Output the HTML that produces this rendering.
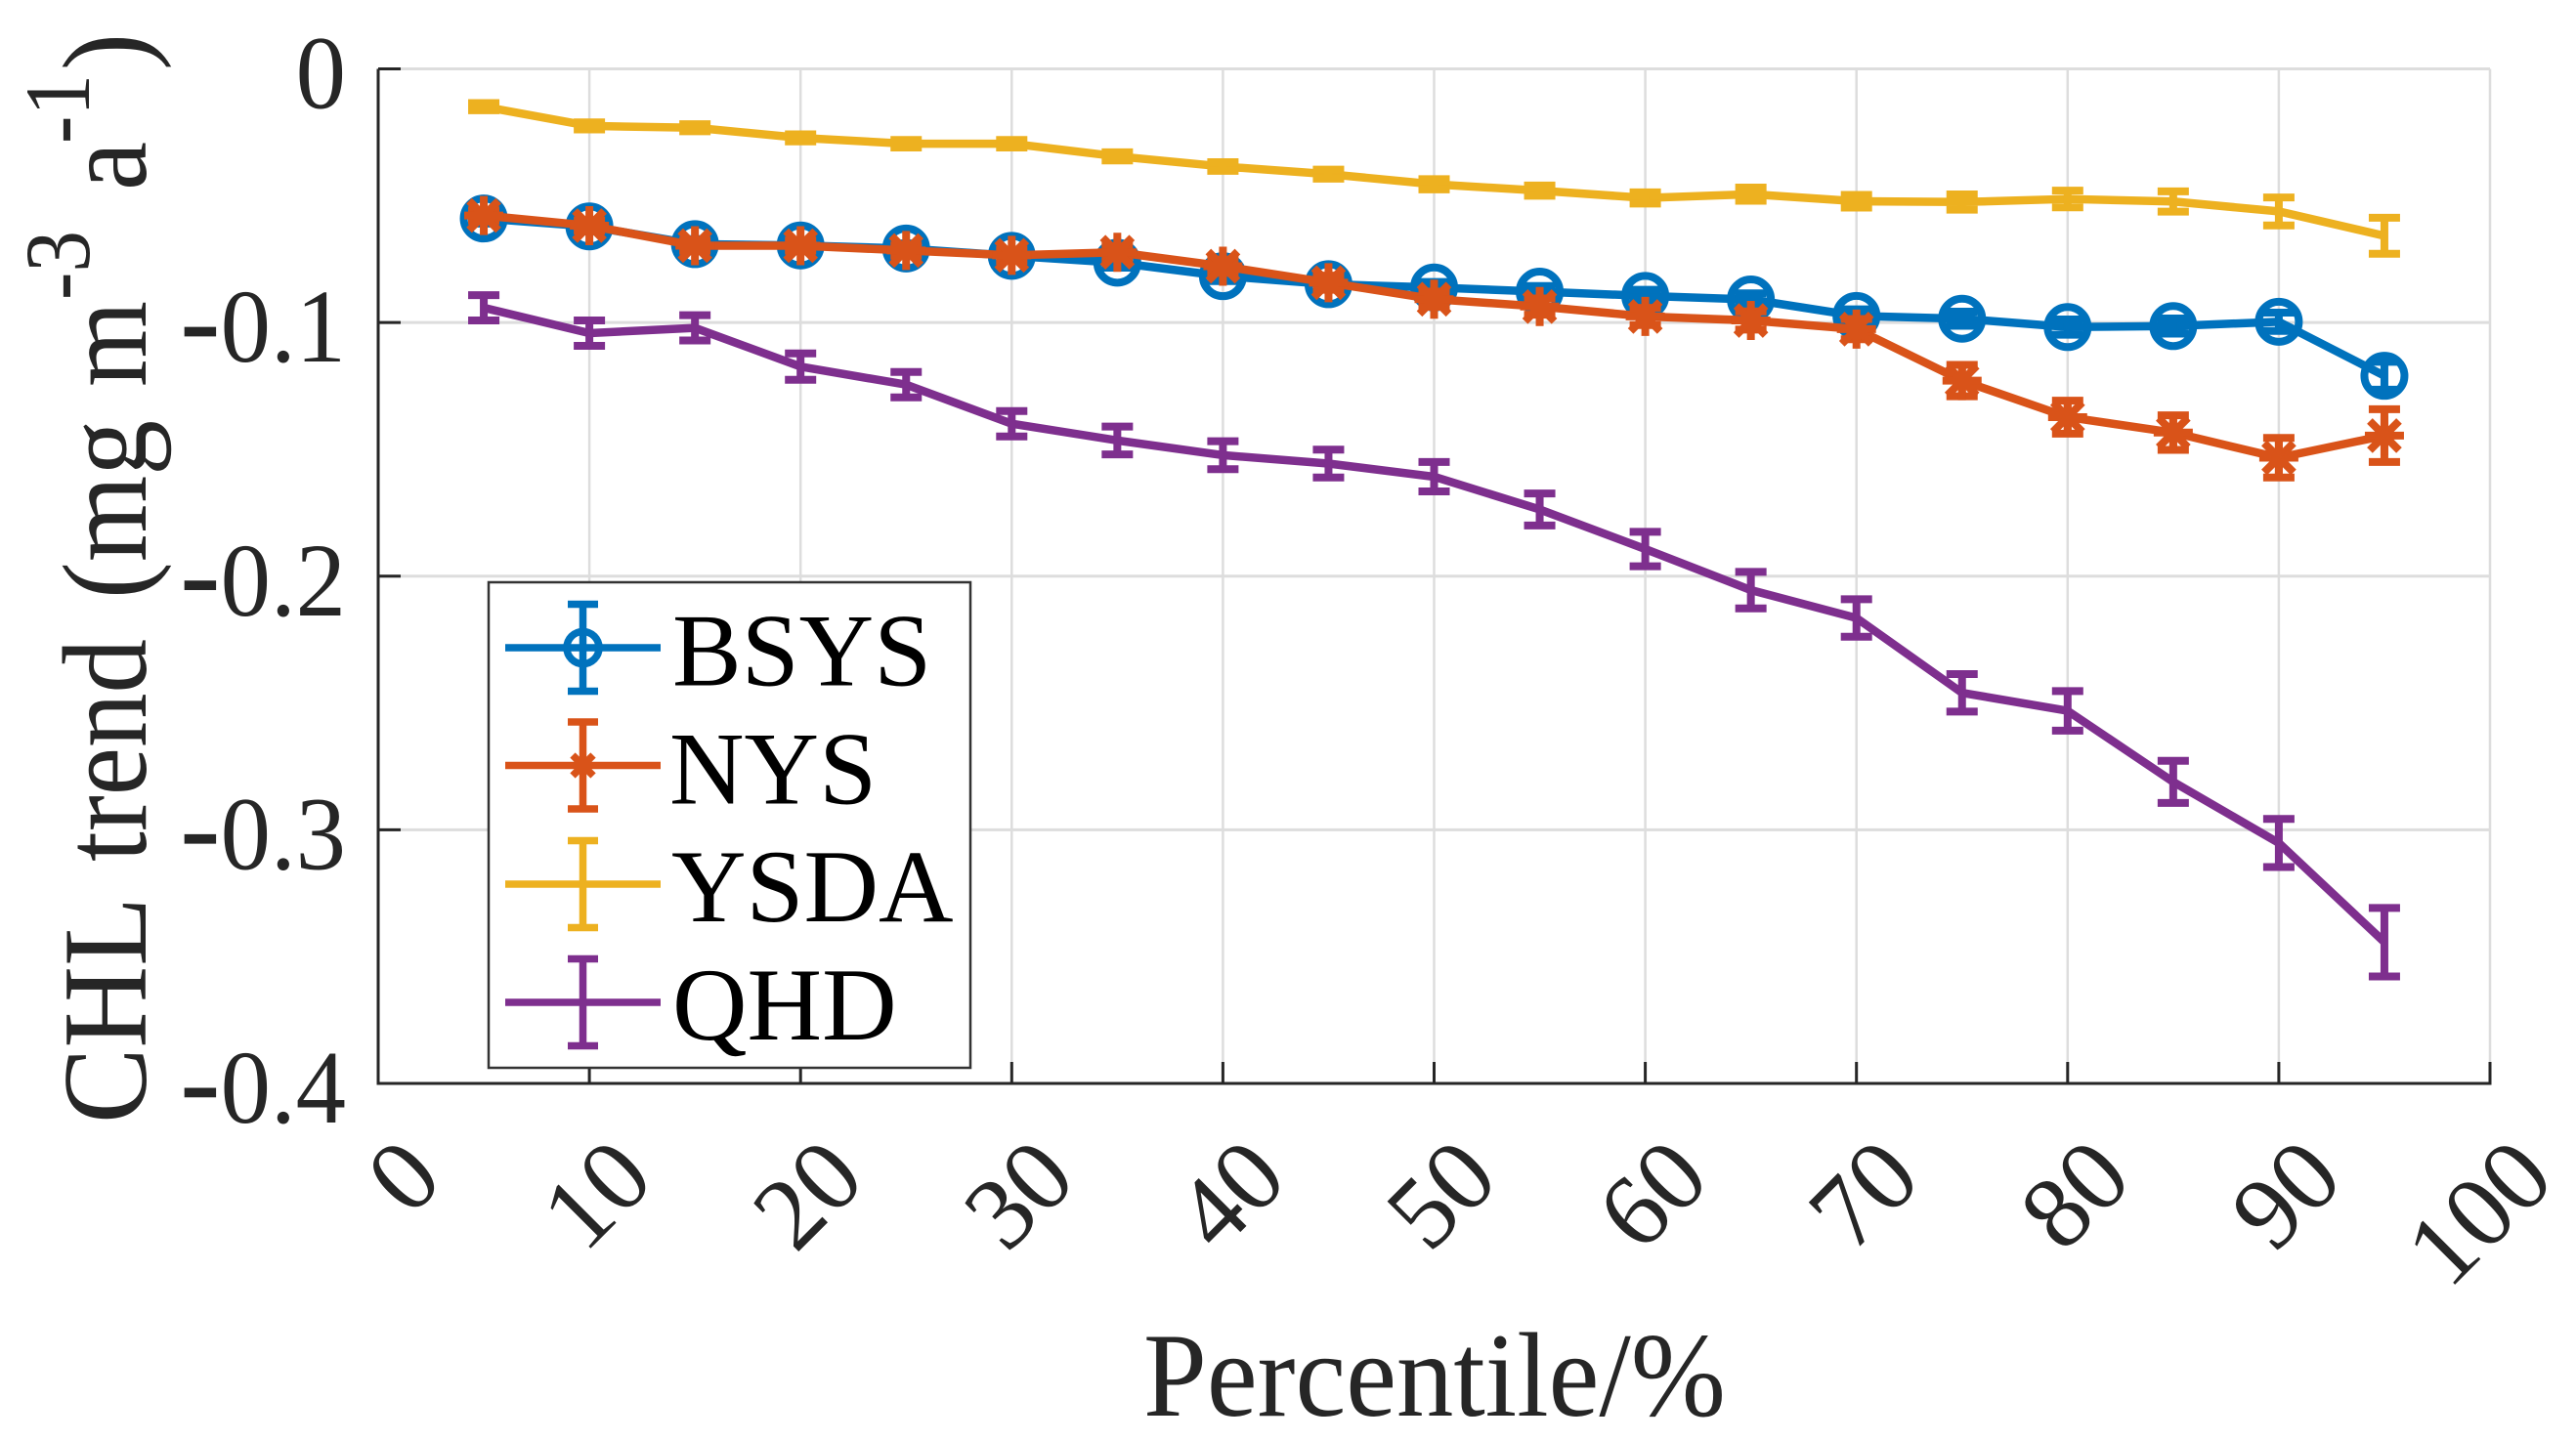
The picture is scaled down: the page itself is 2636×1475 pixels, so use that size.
<!DOCTYPE html>
<html lang="en">
<head>
<meta charset="utf-8">
<title>CHL trend by percentile</title>
<style>
html,body{margin:0;padding:0;background:#fff;}
svg{display:block;font-family:"Liberation Serif",serif;}
</style>
</head>
<body>
<svg xmlns="http://www.w3.org/2000/svg" width="2636" height="1475" viewBox="0 0 2636 1475">
  <rect x="0" y="0" width="2636" height="1475" fill="#ffffff"/>
  <g id="grid"></g>
  <g id="axes"></g>
  <g id="series"></g>

  <g fill="#262626" font-size="123">
    <text transform="translate(149,1150) rotate(-90)" textLength="232" lengthAdjust="spacingAndGlyphs">CHL</text>
    <text transform="translate(149,882) rotate(-90)" textLength="228" lengthAdjust="spacingAndGlyphs">trend</text>
    <text transform="translate(149,613) rotate(-90)" textLength="183" lengthAdjust="spacingAndGlyphs">(mg</text>
    <text transform="translate(149,396) rotate(-90)" textLength="88" lengthAdjust="spacingAndGlyphs">m</text>
    <text transform="translate(91,307) rotate(-90)" font-size="95" textLength="71" lengthAdjust="spacingAndGlyphs">-3</text>
    <text transform="translate(149,195) rotate(-90)" textLength="50" lengthAdjust="spacingAndGlyphs">a</text>
    <text transform="translate(91,147) rotate(-90)" font-size="95" textLength="71" lengthAdjust="spacingAndGlyphs">-1</text>
    <text transform="translate(149,72) rotate(-90)" textLength="38" lengthAdjust="spacingAndGlyphs">)</text>
  </g>

  <text x="1170" y="1449" font-size="123" fill="#262626" textLength="596" lengthAdjust="spacingAndGlyphs">Percentile/%</text>

  <g>
    <rect x="500" y="596" width="493" height="497" fill="#ffffff" stroke="#333333" stroke-width="2.5"/>

    <g stroke="#0072BD" stroke-width="7.5" fill="none">
      <line x1="517" y1="663" x2="676" y2="663"/>
      <line x1="596.5" y1="618.5" x2="596.5" y2="707.5"/>
      <line x1="581" y1="618.5" x2="612" y2="618.5"/>
      <line x1="581" y1="707.5" x2="612" y2="707.5"/>
      <circle cx="596.5" cy="663" r="16.5"/>
      <text x="688" y="701.5" font-size="106" fill="#000000" stroke="none">BSYS</text>
    </g>

    <g stroke="#D95319" stroke-width="7.5" fill="none">
      <line x1="517" y1="783.5" x2="676" y2="783.5"/>
      <line x1="596.5" y1="739" x2="596.5" y2="828"/>
      <line x1="581" y1="739" x2="612" y2="739"/>
      <line x1="581" y1="828" x2="612" y2="828"/>
      <line x1="586" y1="773" x2="607" y2="794"/>
      <line x1="607" y1="773" x2="586" y2="794"/>
      <text x="685" y="822.5" font-size="106" fill="#000000" stroke="none">NYS</text>
    </g>

    <g stroke="#EDB120" stroke-width="7.5" fill="none">
      <line x1="517" y1="905" x2="676" y2="905"/>
      <line x1="596.5" y1="860.5" x2="596.5" y2="949.5"/>
      <line x1="581" y1="860.5" x2="612" y2="860.5"/>
      <line x1="581" y1="949.5" x2="612" y2="949.5"/>
      <text x="687" y="943" font-size="106" fill="#000000" stroke="none">YSDA</text>
    </g>

    <g stroke="#7E2F8E" stroke-width="7.5" fill="none">
      <line x1="517" y1="1026" x2="676" y2="1026"/>
      <line x1="596.5" y1="981.5" x2="596.5" y2="1070.5"/>
      <line x1="581" y1="981.5" x2="612" y2="981.5"/>
      <line x1="581" y1="1070.5" x2="612" y2="1070.5"/>
      <text x="688" y="1064" font-size="106" fill="#000000" stroke="none">QHD</text>
    </g>
  </g>
</svg>

<script>
const percentiles = [5,10,15,20,25,30,35,40,45,50,55,60,65,70,75,80,85,90,95];
const xTickValues = [0,10,20,30,40,50,60,70,80,90,100];
const yTickValues = [0,-0.1,-0.2,-0.3,-0.4];
const yTickLabels = ["0","0.1","0.2","0.3","0.4"];

const bsysValues = [-0.059,-0.0621,-0.0691,-0.0696,-0.0708,-0.0737,-0.0764,-0.0817,-0.0849,-0.0862,-0.0878,-0.0895,-0.0909,-0.0974,-0.0985,-0.1018,-0.1014,-0.0997,-0.121];
const bsysErrors = [0.002,0.002,0.002,0.002,0.002,0.002,0.002,0.002,0.002,0.0022,0.0022,0.0024,0.0024,0.0026,0.0028,0.003,0.003,0.0036,0.0055];

const nysValues = [-0.0578,-0.0618,-0.0697,-0.0697,-0.0716,-0.0735,-0.0723,-0.0778,-0.0843,-0.0908,-0.0937,-0.0976,-0.0992,-0.1026,-0.1229,-0.1373,-0.1434,-0.1533,-0.1446];
const nysErrors = [0.002,0.002,0.002,0.002,0.002,0.0022,0.0024,0.0026,0.0028,0.003,0.0032,0.0034,0.0036,0.004,0.0062,0.0065,0.0068,0.0078,0.0104];

const ysdaValues = [-0.0149,-0.0225,-0.0232,-0.0272,-0.0295,-0.0295,-0.0345,-0.0385,-0.0415,-0.0455,-0.048,-0.0509,-0.0494,-0.0522,-0.0525,-0.0513,-0.0523,-0.0562,-0.0658];
const ysdaErrors = [0.0014,0.0014,0.0014,0.0014,0.0015,0.0015,0.0016,0.0017,0.0018,0.002,0.002,0.0022,0.0026,0.0025,0.003,0.0033,0.004,0.0055,0.0071];

const qhdValues = [-0.0942,-0.1042,-0.1021,-0.1174,-0.1245,-0.1399,-0.1465,-0.1523,-0.1556,-0.1608,-0.1737,-0.1893,-0.2055,-0.2165,-0.246,-0.2531,-0.2811,-0.3052,-0.3443];
const qhdErrors = [0.005,0.005,0.005,0.0052,0.005,0.005,0.0055,0.0055,0.0055,0.0058,0.0063,0.0068,0.0072,0.0074,0.0074,0.0078,0.0083,0.0095,0.0135];

const SVGNS = "http://www.w3.org/2000/svg";
const plotLeft = 387, plotRight = 2548, plotTop = 70.5, plotBottom = 1109;
const xDomain = [0, 100], yDomain = [-0.4, 0];

function xScale(v) {
  return plotLeft + (v - xDomain[0]) / (xDomain[1] - xDomain[0]) * (plotRight - plotLeft);
}
function yScale(v) {
  return plotBottom - (v - yDomain[0]) / (yDomain[1] - yDomain[0]) * (plotBottom - plotTop);
}
function make(tag, attrs, parent) {
  const el = document.createElementNS(SVGNS, tag);
  for (const k in attrs) el.setAttribute(k, attrs[k]);
  parent.appendChild(el);
  return el;
}

const gridGroup = document.getElementById("grid");
const axesGroup = document.getElementById("axes");
const seriesGroup = document.getElementById("series");

xTickValues.forEach(function (t) {
  const x = xScale(t);
  const g = make("line", {x1: x, y1: plotTop, x2: x, y2: plotBottom, stroke: "#dddddd", "stroke-width": 2.5}, gridGroup);
  
  
  const tick = make("line", {x1: x, y1: plotBottom, x2: x, y2: plotBottom - 22, stroke: "#262626", "stroke-width": 3}, axesGroup);
  
  
  const label = make("text", {transform: "translate(" + (x + 69) + ",1210) rotate(-45)", "text-anchor": "end", "font-size": 105, fill: "#262626"}, axesGroup);
  label.textContent = String(t);
  
  
});

yTickValues.forEach(function (t, i) {
  const y = yScale(t);
  const g = make("line", {x1: plotLeft, y1: y, x2: plotRight, y2: y, stroke: "#dddddd", "stroke-width": 3}, gridGroup);
  
  
  const tick = make("line", {x1: plotLeft, y1: y, x2: plotLeft + 23, y2: y, stroke: "#262626", "stroke-width": 3}, axesGroup);
  
  
  const label = make("text", {transform: "translate(354," + (y + 40) + ") scale(0.96,1)", "text-anchor": "end", "font-size": 107, fill: "#262626"}, axesGroup);
  if (t < 0) {
    const dash = make("tspan", {"font-size": 130}, label);
    dash.textContent = "-";
    
    
  }
  const digits = make("tspan", {}, label);
  digits.textContent = yTickLabels[i];
  
  
  
  
});

const xAxisLine = make("line", {x1: plotLeft - 1.5, y1: plotBottom, x2: plotRight + 1.5, y2: plotBottom, stroke: "#262626", "stroke-width": 3}, axesGroup);


const yAxisLine = make("line", {x1: plotLeft, y1: plotTop, x2: plotLeft, y2: plotBottom, stroke: "#262626", "stroke-width": 3}, axesGroup);



function drawSeries(name, values, errors, color, marker) {
  const group = make("g", {stroke: color, fill: "none"}, seriesGroup);
  
  

  const pts = values.map(function (v, i) { return xScale(percentiles[i]) + "," + yScale(v); }).join(" ");
  const line = make("polyline", {points: pts, "stroke-width": 8.5, "stroke-linejoin": "round"}, group);
  
  

  values.forEach(function (v, i) {
    const x = xScale(percentiles[i]);
    const y = yScale(v);
    const yHi = yScale(v + errors[i]);
    const yLo = yScale(v - errors[i]);
    const bar = make("path", {
      d: "M" + x + " " + yHi + "V" + yLo + "M" + (x - 16) + " " + yHi + "H" + (x + 16) + "M" + (x - 16) + " " + yLo + "H" + (x + 16),
      "stroke-width": 8
    }, group);
    
    

    if (marker === "circle") {
      const c = make("circle", {cx: x, cy: y, r: 20.5, "stroke-width": 8}, group);
      
      
    }
    if (marker === "asterisk") {
      const r = 20, d = 15;
      const a = make("path", {
        d: "M" + (x - r) + " " + y + "H" + (x + r) +
           "M" + x + " " + (y - r) + "V" + (y + r) +
           "M" + (x - d) + " " + (y - d) + "L" + (x + d) + " " + (y + d) +
           "M" + (x - d) + " " + (y + d) + "L" + (x + d) + " " + (y - d),
        "stroke-width": 8
      }, group);
      
      
    }
  });
}

drawSeries("bsys", bsysValues, bsysErrors, "#0072BD", "circle");
drawSeries("nys", nysValues, nysErrors, "#D95319", "asterisk");
drawSeries("ysda", ysdaValues, ysdaErrors, "#EDB120", "none");
drawSeries("qhd", qhdValues, qhdErrors, "#7E2F8E", "none");
</script>
</body>
</html>
